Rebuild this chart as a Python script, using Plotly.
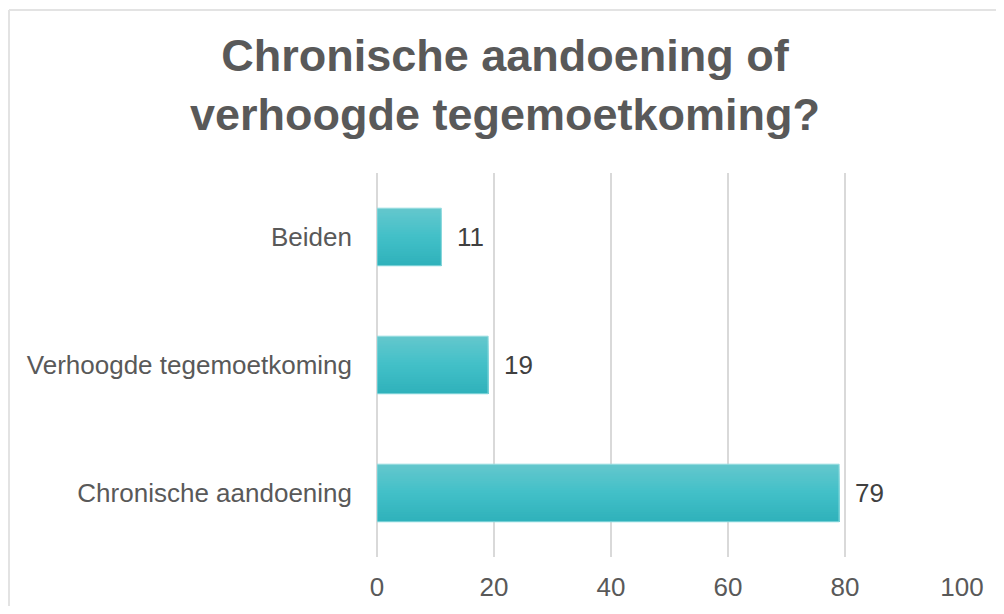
import plotly.graph_objects as go

categories = ["Chronische aandoening", "Verhoogde tegemoetkoming", "Beiden"]
values = [79, 19, 11]
x_ticks = [0, 20, 40, 60, 80, 100]
title_lines = ["Chronische aandoening of", "verhoogde tegemoetkoming?"]

# The page body adds an 8px margin, so the figure is sized to fit inside it.
W, H = 988, 598
L, R, T, B = 369, 34, 165, 49
pw, ph = W - L - R, H - T - B

FONT = "Liberation Sans, Arial, sans-serif"
BAR_W = 0.45

def hex_to_rgb(h):
    h = h.lstrip("#")
    return tuple(int(h[i:i + 2], 16) for i in (0, 2, 4))

def mix(c1, c2, t):
    a, b = hex_to_rgb(c1), hex_to_rgb(c2)
    return "rgb(%d,%d,%d)" % tuple(round(a[i] + (b[i] - a[i]) * t) for i in range(3))

# vertical gradient of the bars: nested bars, each one shorter from the top,
# painted top colour first so later (lower) bands cover the previous ones.
grad_bottom, grad_mid, grad_top = "#2fb1ba", "#42c0c8", "#64c7cd"
N = 24
fig = go.Figure()
for k in range(N):
    i = N - 1 - k                # band index from bottom (top band first)
    t = (i + 0.5) / N
    col = mix(grad_bottom, grad_mid, t * 2) if t < 0.5 else mix(grad_mid, grad_top, (t - 0.5) * 2)
    w = BAR_W * (i + 1) / N
    fig.add_trace(go.Bar(
        x=values, y=categories, orientation="h",
        width=w, offset=-BAR_W / 2,
        marker=dict(color=col, line=dict(width=0)),
        hoverinfo="x+y" if k == 0 else "skip",
    ))
# thin light outline
fig.add_trace(go.Bar(
    x=values, y=categories, orientation="h",
    width=BAR_W,
    marker=dict(color="rgba(0,0,0,0)", line=dict(color="#95dce0", width=1)),
    hoverinfo="skip",
))

annotations = [
    dict(x=v, y=c, xref="x", yref="y", text=str(v), showarrow=False,
         xanchor="left", xshift=14,
         font=dict(family=FONT, size=26, color="#404040"))
    for v, c in zip(values, categories)
]

def px_to_paper_x(px):
    return (px - L) / pw

def px_to_paper_y(py):
    return (H - B - py) / ph

frame_color = "#e3e3e3"
shapes = [
    dict(type="line", xref="paper", yref="paper",
         x0=px_to_paper_x(1), x1=px_to_paper_x(W + 5),
         y0=px_to_paper_y(2), y1=px_to_paper_y(2),
         line=dict(color=frame_color, width=2)),
    dict(type="line", xref="paper", yref="paper",
         x0=px_to_paper_x(1), x1=px_to_paper_x(1),
         y0=px_to_paper_y(2), y1=px_to_paper_y(H + 5),
         line=dict(color=frame_color, width=2)),
]

fig.update_layout(
    width=W, height=H,
    margin=dict(l=L, r=R, t=T, b=B, pad=0, autoexpand=False),
    paper_bgcolor="white", plot_bgcolor="white",
    barmode="overlay",
    title=dict(
        text="<br>".join(title_lines),
        x=497 / W, xanchor="center", xref="container",
        y=1 - 63 / H, yanchor="top", yref="container",
        font=dict(family=FONT, size=45, color="#595959", weight="bold"),
        automargin=False,
    ),
    xaxis=dict(
        range=[0, 100], tickvals=x_ticks, ticktext=[str(t) for t in x_ticks],
        showgrid=True, gridcolor="#d9d9d9", gridwidth=2,
        zeroline=True, zerolinecolor="#d9d9d9", zerolinewidth=2,
        showline=False, ticks="", ticklabelstandoff=12,
        tickfont=dict(family=FONT, size=26, color="#595959"),
        fixedrange=True, automargin=False,
    ),
    yaxis=dict(
        categoryorder="array", categoryarray=categories,
        range=[-0.5, 2.5],
        showgrid=False, zeroline=False, showline=False, ticks="",
        ticklabelstandoff=24,
        tickfont=dict(family=FONT, size=26, color="#595959"),
        fixedrange=True, automargin=False,
    ),
    annotations=annotations,
    shapes=shapes,
    showlegend=False,
)

fig.write_html("out.html")
